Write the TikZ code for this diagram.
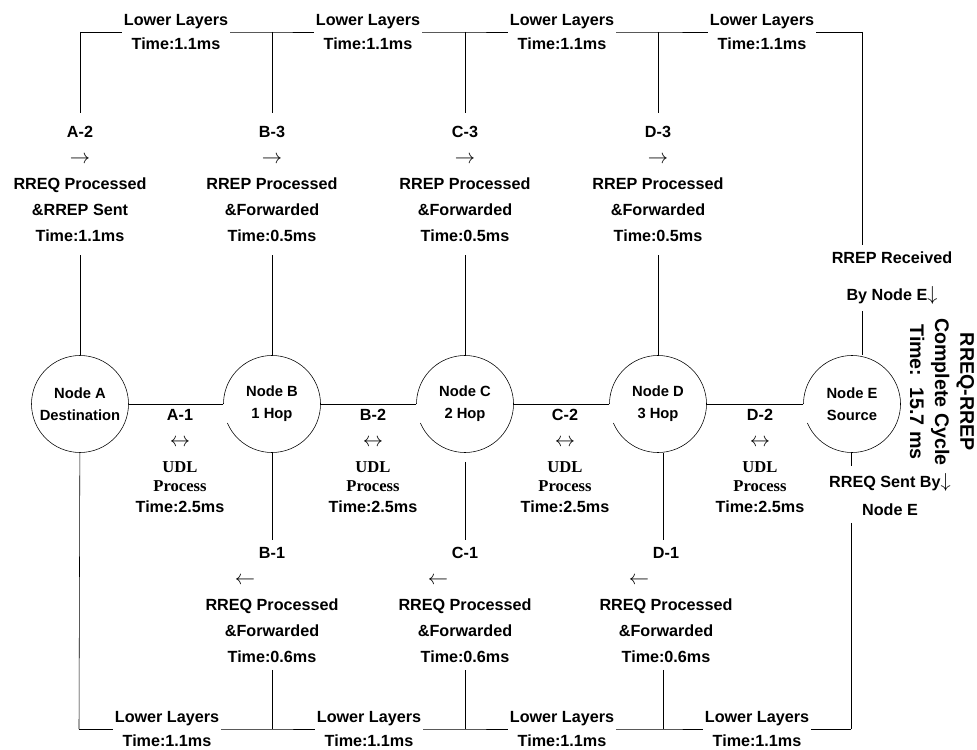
\documentclass[tikz,border=0pt]{standalone}
\usepackage{fontspec}
\setmainfont{Liberation Sans}
\newfontfamily\serifbold{Liberation Serif}
\newcommand\arr[1]{{\fontsize{15}{18.5}\selectfont$#1$}}
\newcommand\udl{\serifbold\bfseries\fontsize{11.8}{18.5}\selectfont}

\tikzset{
  hop/.style={circle, minimum size=24.25mm, inner sep=0pt, align=center,
    font=\fontsize{10.5}{15.6}\selectfont\bfseries},
  stage/.style={align=center, inner xsep=1pt, inner ysep=1.75mm,
    font=\fontsize{11.5}{18.5}\selectfont\bfseries},
  layer/.style={align=center, inner sep=0.5mm,
    font=\fontsize{11.5}{17}\selectfont\bfseries},
}

\begin{document}
\begin{tikzpicture}[x=0.25mm, y=0.25mm]
  \useasboundingbox (0,0) rectangle (977,749);

  % the five nodes of the route
  \node[hop, draw] (nA) at (80,345) {Node A\\Destination};
  \node[hop] (nB) at (272,345) {Node B\\1 Hop};
  \node[hop] (nC) at (465,345) {Node C\\2 Hop};
  \node[hop] (nD) at (658,345) {Node D\\3 Hop};
  \node[hop] (nE) at (852,345) {Node E\\Source};
  \foreach \n in {nB,nC,nD,nE}
    \draw ([shift={(203:48.5)}]\n.center) arc[start angle=203, end angle=540, radius=48.5];
  \draw (nA) -- (nB) -- (nC) -- (nD) -- (nE);

  % lower layers, top
  \coordinate (upA) at (80,717);
  \coordinate (upB) at (272,717);
  \coordinate (upC) at (465,717);
  \coordinate (upD) at (658,717);
  \coordinate (upE) at (862,717);
  \node[layer] (llup1) at (176,717) {Lower Layers\\Time:1.1ms};
  \node[layer] (llup2) at (368,717) {Lower Layers\\Time:1.1ms};
  \node[layer] (llup3) at (562,717) {Lower Layers\\Time:1.1ms};
  \node[layer] (llup4) at (762,717) {Lower Layers\\Time:1.1ms};
  \draw (upA) -- (llup1) -- (upB) -- (llup2) -- (upC) -- (llup3) -- (upD) -- (llup4) -- (upE);

  % RREP way back
  \node[stage, inner ysep=3.25mm, anchor=north] (repA) at (80,636) {A-2\\\arr{\rightarrow}\\RREQ Processed\\\&RREP Sent\\Time:1.1ms};
  \node[stage, inner ysep=3.25mm, anchor=north] (repB) at (272,636) {B-3\\\arr{\rightarrow}\\RREP Processed\\\&Forwarded\\Time:0.5ms};
  \node[stage, inner ysep=3.25mm, anchor=north] (repC) at (465,636) {C-3\\\arr{\rightarrow}\\RREP Processed\\\&Forwarded\\Time:0.5ms};
  \node[stage, inner ysep=3.25mm, anchor=north] (repD) at (658,636) {D-3\\\arr{\rightarrow}\\RREP Processed\\\&Forwarded\\Time:0.5ms};
  \foreach \x in {A,B,C,D}
    \draw (up\x) -- (rep\x) -- (n\x);

  % UDL between the nodes
  \node[stage, anchor=north] (udlA) at (180,347) {A-1\\\arr{\leftrightarrow}\\{\udl UDL}\\[-1.75mm]{\udl Process}\\[-1.25mm]Time:2.5ms};
  \node[stage, anchor=north] (udlB) at (373,347) {B-2\\\arr{\leftrightarrow}\\{\udl UDL}\\[-1.75mm]{\udl Process}\\[-1.25mm]Time:2.5ms};
  \node[stage, anchor=north] (udlC) at (565,347) {C-2\\\arr{\leftrightarrow}\\{\udl UDL}\\[-1.75mm]{\udl Process}\\[-1.25mm]Time:2.5ms};
  \node[stage, anchor=north] (udlD) at (760,347) {D-2\\\arr{\leftrightarrow}\\{\udl UDL}\\[-1.75mm]{\udl Process}\\[-1.25mm]Time:2.5ms};

  % RREQ way out
  \node[stage, anchor=north] (reqB) at (272,209) {B-1\\\makebox[0pt][r]{\arr{\leftarrow}\hspace*{4.25mm}}\\RREQ Processed\\\&Forwarded\\Time:0.6ms};
  \node[stage, anchor=north] (reqC) at (465,209) {C-1\\\makebox[0pt][r]{\arr{\leftarrow}\hspace*{4.25mm}}\\RREQ Processed\\\&Forwarded\\Time:0.6ms};
  \node[stage, anchor=north] (reqD) at (666,209) {D-1\\\makebox[0pt][r]{\arr{\leftarrow}\hspace*{4.25mm}}\\RREQ Processed\\\&Forwarded\\Time:0.6ms};

  % lower layers, bottom
  \coordinate (dnA) at (79,20);
  \coordinate (dnB) at (272,20);
  \coordinate (dnC) at (465,20);
  \coordinate (dnD) at (663,20);
  \coordinate (dnE) at (851,20);
  \node[layer] (lldn1) at (167,20) {Lower Layers\\Time:1.1ms};
  \node[layer] (lldn2) at (369,20) {Lower Layers\\Time:1.1ms};
  \node[layer] (lldn3) at (562,20) {Lower Layers\\Time:1.1ms};
  \node[layer] (lldn4) at (757,20) {Lower Layers\\Time:1.1ms};
  \draw (dnA) -- (lldn1) -- (dnB) -- (lldn2) -- (dnC) -- (lldn3) -- (dnD) -- (lldn4) -- (dnE);
  \draw (nA) -- (dnA);
  \draw (nB) -- (reqB) -- (dnB);
  \draw[shorten <=2.25mm] (nC) -- (reqC);
  \draw (reqC) -- (dnC);
  \draw (nD.south -| dnD) -- (reqD.north -| dnD);
  \draw (reqD.south -| dnD) -- (dnD);

  % source side
  \node[stage, anchor=north] (rcvE) at (892,504) {RREP Received\\[2.5mm]By Node E\arr{\downarrow}};
  \draw (upE) -- (upE |- rcvE.north);
  \draw (rcvE.south -| upE) -- (upE |- nE.north);
  \node[stage, anchor=north] (sntE) at (890,283) {RREQ Sent By\arr{\downarrow}\\[0.5mm]Node E};
  \draw (nE.south -| dnE) -- (dnE |- sntE.north);
  \draw (sntE.south -| dnE) -- (dnE);
  \node[rotate=-90, align=center, font=\fontsize{14}{17.8}\selectfont\bfseries] (total) at (942,357)
    {RREQ-RREP\\Complete Cycle\\Time:\ \ 15.7 ms};
\end{tikzpicture}
\end{document}
